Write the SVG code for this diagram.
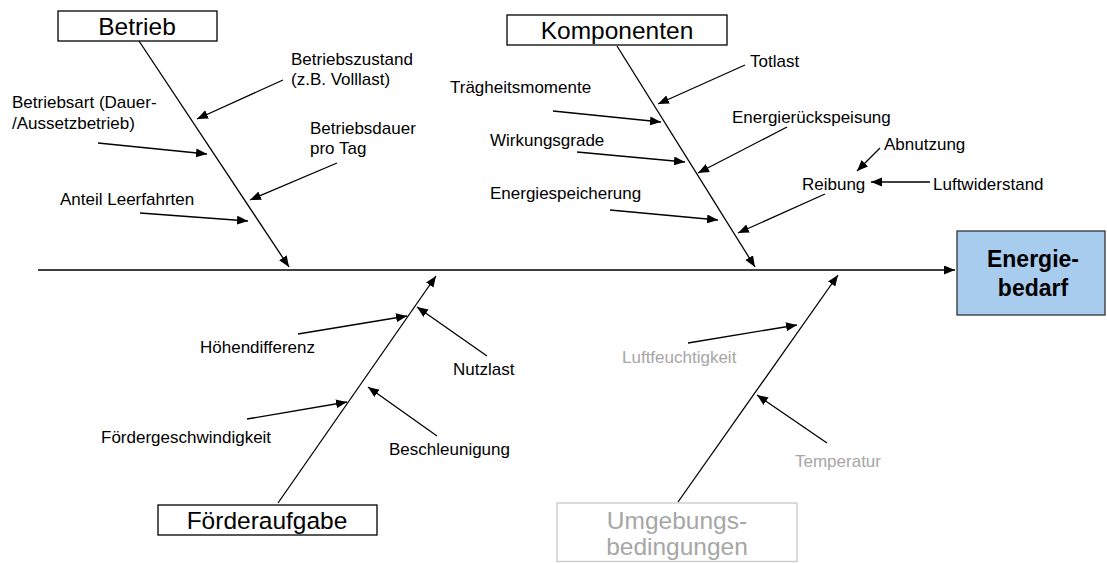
<svg xmlns="http://www.w3.org/2000/svg" width="1107" height="563" viewBox="0 0 1107 563">
  <style>
    .box { fill: #ffffff; stroke: #000000; stroke-width: 1.3; }
    .box-dim { fill: #ffffff; stroke: #c8c8c8; stroke-width: 1.3; }
    .title { font-family: "Liberation Sans", Arial, sans-serif; font-size: 24.5px; fill: #000000; text-anchor: middle; }
    .title-dim { font-family: "Liberation Sans", Arial, sans-serif; font-size: 24.5px; fill: #a6a6a6; text-anchor: middle; }
    .label { font-family: "Liberation Sans", Arial, sans-serif; font-size: 17px; fill: #000000; }
    .label-dim { font-family: "Liberation Sans", Arial, sans-serif; font-size: 17px; fill: #a6a6a6; }
    .effect { font-family: "Liberation Sans", Arial, sans-serif; font-size: 23px; font-weight: bold; fill: #000000; text-anchor: middle; }
    .line { stroke: #000000; stroke-width: 1.3; fill: none; marker-end: url(#head); }
  </style>
  <defs>
    <marker id="head" markerUnits="userSpaceOnUse" markerWidth="12" markerHeight="10" refX="11" refY="4.5" orient="auto">
      <path d="M0,0 L11,4.5 L0,9 z" fill="#000000"/>
    </marker>
  </defs>

  <rect width="1107" height="563" fill="#ffffff"/>

  <!-- connectors: backbone, main bones and cause arrows -->
  <g id="connectors">
    <line class="line" x1="38" y1="270" x2="955" y2="270"/>

    <!-- Betrieb -->
    <line class="line" x1="139" y1="41" x2="289" y2="267"/>
    <line class="line" x1="283" y1="80" x2="197" y2="119"/>
    <line class="line" x1="98" y1="143" x2="207" y2="154"/>
    <line class="line" x1="337" y1="163" x2="250" y2="200"/>
    <line class="line" x1="140" y1="213" x2="248" y2="221"/>

    <!-- Komponenten -->
    <line class="line" x1="617" y1="46" x2="755" y2="267"/>
    <line class="line" x1="745" y1="65" x2="658" y2="104"/>
    <line class="line" x1="553" y1="111" x2="661" y2="122"/>
    <line class="line" x1="577" y1="152" x2="685" y2="162"/>
    <line class="line" x1="787" y1="127" x2="698" y2="173"/>
    <line class="line" x1="610" y1="210" x2="718" y2="220"/>
    <line class="line" x1="825" y1="194" x2="738" y2="233"/>
    <line class="line" x1="880" y1="148" x2="857" y2="171"/>
    <line class="line" x1="930" y1="182" x2="871" y2="182"/>

    <!-- Förderaufgabe -->
    <line class="line" x1="278" y1="503" x2="436" y2="276"/>
    <line class="line" x1="298" y1="334" x2="407" y2="316"/>
    <line class="line" x1="487" y1="356" x2="417" y2="307"/>
    <line class="line" x1="247" y1="419" x2="347" y2="402"/>
    <line class="line" x1="437" y1="436" x2="368" y2="387"/>

    <!-- Umgebungsbedingungen -->
    <line class="line" x1="678" y1="502" x2="838" y2="275"/>
    <line class="line" x1="688" y1="343" x2="797" y2="325"/>
    <line class="line" x1="827" y1="443" x2="757" y2="395"/>
  </g>

  <!-- category boxes -->
  <g id="betrieb">
    <rect class="box" x="58" y="11" width="159" height="30"/>
    <text class="title" x="137" y="35">Betrieb</text>
  </g>
  <g id="komponenten">
    <rect class="box" x="507" y="15" width="220" height="30"/>
    <text class="title" x="617" y="39">Komponenten</text>
  </g>
  <g id="foerderaufgabe">
    <rect class="box" x="158" y="505" width="219" height="30"/>
    <text class="title" x="267" y="529">Förderaufgabe</text>
  </g>
  <g id="umgebungsbedingungen">
    <rect class="box-dim" x="557" y="503" width="240" height="58.5"/>
    <text class="title-dim" x="677" y="529">Umgebungs-</text>
    <text class="title-dim" x="677" y="555">bedingungen</text>
  </g>

  <!-- effect box -->
  <g id="energiebedarf">
    <rect x="957" y="231" width="148" height="84" fill="#a8ccee" stroke="#333333" stroke-width="1.3"/>
    <text class="effect" x="1033" y="267">Energie-</text>
    <text class="effect" x="1033" y="296">bedarf</text>
  </g>

  <!-- cause labels -->
  <g id="betriebszustand">
    <text class="label" x="291" y="65">Betriebszustand</text>
    <text class="label" x="291" y="85">(z.B. Volllast)</text>
  </g>
  <g id="betriebsart">
    <text class="label" x="12" y="108">Betriebsart (Dauer-</text>
    <text class="label" x="12" y="129">/Aussetzbetrieb)</text>
  </g>
  <g id="betriebsdauer">
    <text class="label" x="310" y="134">Betriebsdauer</text>
    <text class="label" x="310" y="154">pro Tag</text>
  </g>
  <g id="leerfahrten">
    <text class="label" x="60" y="205">Anteil Leerfahrten</text>
  </g>

  <g id="totlast">
    <text class="label" x="750" y="67">Totlast</text>
  </g>
  <g id="traegheitsmomente">
    <text class="label" x="450" y="93">Trägheitsmomente</text>
  </g>
  <g id="wirkungsgrade">
    <text class="label" x="490" y="146">Wirkungsgrade</text>
  </g>
  <g id="energierueckspeisung">
    <text class="label" x="732" y="123">Energierückspeisung</text>
  </g>
  <g id="energiespeicherung">
    <text class="label" x="490" y="199">Energiespeicherung</text>
  </g>
  <g id="reibung">
    <text class="label" x="802" y="190">Reibung</text>
  </g>
  <g id="abnutzung">
    <text class="label" x="884" y="150">Abnutzung</text>
  </g>
  <g id="luftwiderstand">
    <text class="label" x="933" y="190">Luftwiderstand</text>
  </g>

  <g id="hoehendifferenz">
    <text class="label" x="200" y="353">Höhendifferenz</text>
  </g>
  <g id="nutzlast">
    <text class="label" x="453" y="375">Nutzlast</text>
  </g>
  <g id="foerdergeschwindigkeit">
    <text class="label" x="101" y="443">Fördergeschwindigkeit</text>
  </g>
  <g id="beschleunigung">
    <text class="label" x="389" y="455">Beschleunigung</text>
  </g>

  <g id="luftfeuchtigkeit">
    <text class="label-dim" x="622" y="363">Luftfeuchtigkeit</text>
  </g>
  <g id="temperatur">
    <text class="label-dim" x="795" y="467">Temperatur</text>
  </g>
</svg>
